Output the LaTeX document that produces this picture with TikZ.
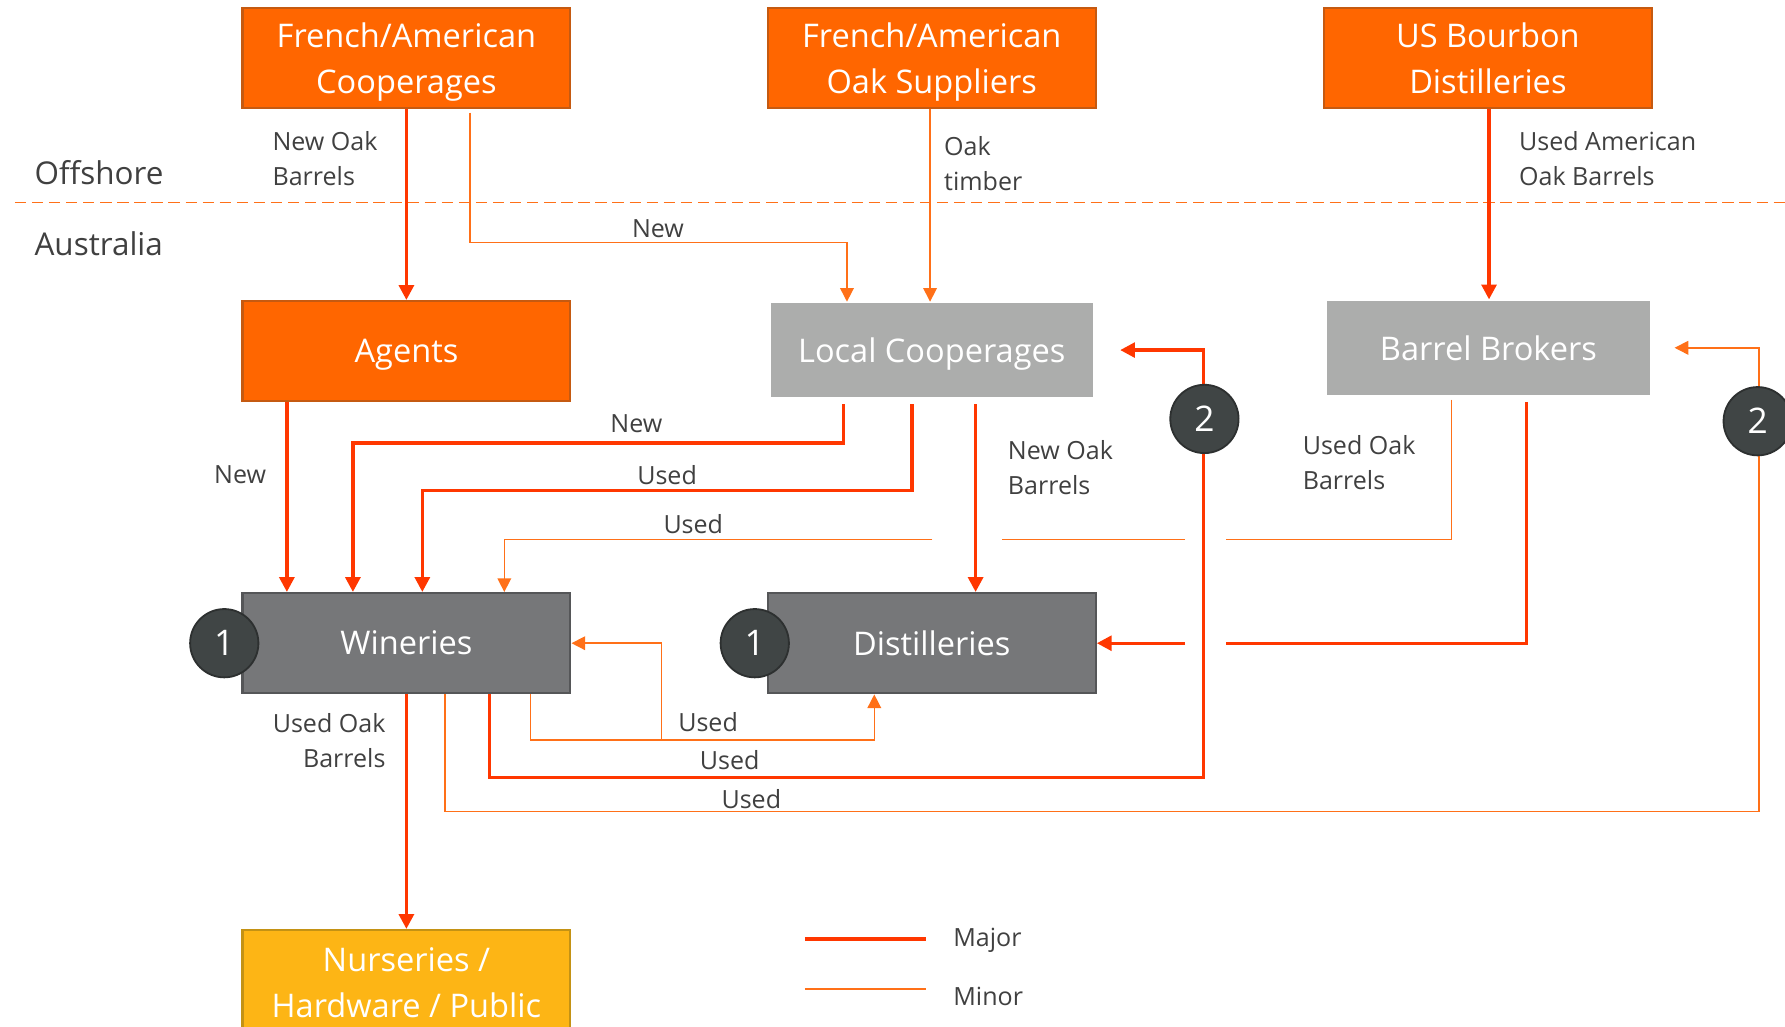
\documentclass[tikz,border=0pt]{standalone}
\usepackage{fontspec}
\setmainfont{Open Sans}
\usetikzlibrary{arrows.meta}
\definecolor{majorc}{RGB}{255,55,0}
\definecolor{minorc}{RGB}{255,112,24}
\definecolor{oboxfill}{RGB}{255,102,0}
\definecolor{oboxline}{RGB}{197,90,17}
\definecolor{gboxfill}{RGB}{172,173,172}
\definecolor{dboxfill}{RGB}{118,119,121}
\definecolor{dboxline}{RGB}{85,86,88}
\definecolor{yboxfill}{RGB}{253,181,21}
\definecolor{yboxline}{RGB}{196,146,20}
\definecolor{badgefill}{RGB}{64,69,69}
\definecolor{badgeline}{RGB}{45,48,48}
\definecolor{labelc}{RGB}{64,64,64}
% text line whose descenders should not shift the box text
\newcommand{\zdp}[1]{\raisebox{0pt}[\height][0pt]{#1}}
\begin{document}
\begin{tikzpicture}[x=0.5pt,y=-0.5pt,
  box/.style={rectangle,inner sep=0pt,align=center,text=white,font=\fontsize{14.3}{20}\selectfont,minimum width=144pt,minimum height=44pt,line width=1pt},
  obox/.style={box,fill=oboxfill,draw=oboxline},
  gbox/.style={box,fill=gboxfill,minimum width=141.5pt,minimum height=41.5pt},
  dbox/.style={box,fill=dboxfill,draw=dboxline},
  ybox/.style={box,fill=yboxfill,draw=yboxline},
  badge/.style={circle,fill=badgefill,draw=badgeline,line width=0.8pt,minimum size=30pt,inner sep=0pt,text=white,font=\fontsize{15.5}{18}\selectfont},
  lbl/.style={inner sep=0pt,text=labelc,font=\fontsize{11}{15.5}\selectfont},
  region/.style={inner sep=0pt,text=labelc,font=\fontsize{13.8}{18}\selectfont,anchor=west},
  major/.style={draw=majorc,line width=1.5pt},
  minor/.style={draw=minorc,line width=0.65pt},
  majarrow/.style={major,-{Triangle[length=6.5pt,width=6.5pt]}},
  minarrow/.style={minor,-{Triangle[length=6pt,width=6pt]}}
]
\useasboundingbox (0,0) rectangle (1568,902);
\clip (0,0) rectangle (1568,902);

% region divider
\coordinate (dl) at (13,178);
\coordinate (dr) at (1568,178);
\draw[minor,dash pattern=on 5pt off 2.5pt] (dl) -- (dr);

% boxes
\node[obox] (fac) at (357,51) {French/American\\\zdp{Cooperages}};
\node[obox] (fao) at (818.5,51) {French/American\\\zdp{Oak Suppliers}};
\node[obox] (usb) at (1307,51) {US Bourbon\\Distilleries};
\node[obox] (agents) at (357,308.5) {\zdp{Agents}};
\node[gbox] (lc) at (818.5,307.5) {\zdp{Local Cooperages}};
\node[gbox] (bb) at (1307.5,305.5) {Barrel Brokers};
\node[dbox] (win) at (357,565) {Wineries};
\node[dbox] (dist) at (818.5,565) {Distilleries};
\node[ybox,minimum height=46pt] (nur) at (357,863) {Nurseries /\\Hardware / Public};

% connectors
\draw[majarrow] (fac) -- (agents);
\draw[minarrow,shorten <=1.5pt] (fac.south -| 413,0) |- (744,213) -- (lc.north -| 744,0);
\draw[minarrow] (fao.south -| 817,0) -- (lc.north -| 817,0);
\draw[majarrow] (usb.south -| 1308,0) -- (bb.north -| 1308,0);
\draw[majarrow] (agents.south -| 252,0) -- (win.north -| 252,0);
\draw[majarrow,shorten <=2.5pt] (lc.south -| 741,0) |- (310,389) -- (win.north -| 310,0);
\draw[majarrow,shorten <=2.5pt] (lc.south -| 801,0) |- (371,431) -- (win.north -| 371,0);
\draw[majarrow,shorten <=2.5pt] (lc.south -| 857,0) -- (dist.north -| 857,0);

\draw[minor,shorten <=1.5pt] (bb.south -| 1275,0) |- (1077,474);
\draw[minor] (1041,474) -- (880,474);
\draw[minarrow] (819,474) -| (win.north -| 443,0);
\draw[major,shorten <=2.5pt] (bb.south -| 1341,0) |- (1077,565);
\draw[majarrow] (1041,565) -- (dist.east);

\draw[majarrow] (win.south -| 430,0) |- (1057,683) |- ([xshift=11.5pt]lc.east);
\draw[minarrow] (win.south -| 391,0) |- (1545,713) |- ([xshift=10.5pt]bb.east);
\draw[minarrow] (win.south -| 466,0) |- (768,650) -- (dist.south -| 768,0);
\coordinate (j) at (581,650);
\draw[minarrow] (j) |- (win.east);
\draw[majarrow] (win) -- (nur);

% badges
\node[badge] (b1w) at (197,565) {1};
\node[badge] (b1d) at (663,565) {1};
\node[badge] (b2a) at (1058,368) {2};
\node[badge] (b2b) at (1544,370) {2};

% labels
\node[region] (off) at (30,152) {Offshore};
\node[region] (aus) at (30,214) {Australia};
\node[lbl,anchor=west,align=left] (t1) at (239,139.5) {New Oak\\Barrels};
\node[lbl,anchor=west,align=left] (t2) at (829,143.5) {Oak\\timber};
\node[lbl,anchor=west,align=left] (t3) at (1334,139.5) {Used American\\Oak Barrels};
\node[lbl] (t4) at (578,201) {New};
\node[lbl] (t5) at (559,372) {New};
\node[lbl] (t6) at (586,417) {Used};
\node[lbl] (t7) at (609,460) {Used};
\node[lbl] (t8) at (211,417) {New};
\node[lbl,anchor=west,align=left] (t9) at (885,411) {New Oak\\Barrels};
\node[lbl,anchor=west,align=left] (t10) at (1144,406.5) {Used Oak\\Barrels};
\node[lbl,anchor=east,align=right] (t11) at (339,650.5) {Used Oak\\Barrels};
\node[lbl] (t12) at (622,634) {Used};
\node[lbl] (t13) at (641,668) {Used};
\node[lbl] (t14) at (660,702) {Used};

% legend
\coordinate (lm1) at (707,825);
\coordinate (lm2) at (813,825);
\draw[major,line width=2pt] (lm1) -- (lm2);
\node[lbl,anchor=west] (lgM) at (837,826) {Major};
\coordinate (ln1) at (707,869);
\coordinate (ln2) at (813,869);
\draw[minor,line width=0.8pt] (ln1) -- (ln2);
\node[lbl,anchor=west] (lgm) at (837,875) {Minor};
\end{tikzpicture}
\end{document}
